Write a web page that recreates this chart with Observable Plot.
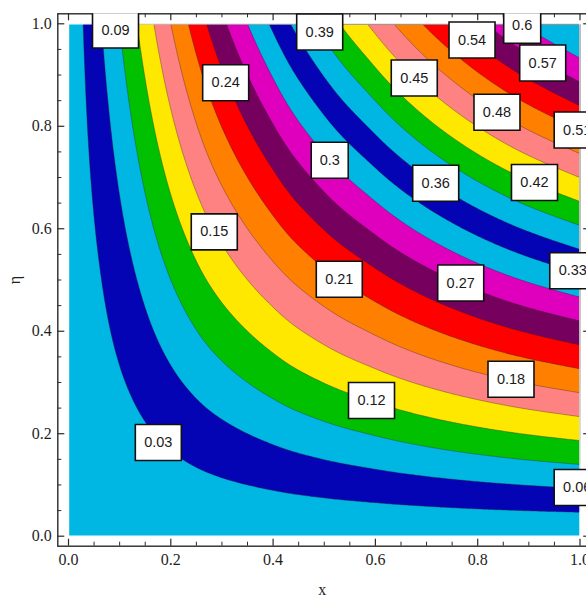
<!DOCTYPE html>
<html>
<head>
<meta charset="utf-8">
<script src="https://cdn.jsdelivr.net/npm/d3@7"></script>
<script src="https://cdn.jsdelivr.net/npm/@observablehq/plot@0.6"></script>
<style>
  html, body { margin: 0; padding: 0; background: #fff; overflow: hidden; }
  #chart svg { max-width: none !important; display: block; }
</style>
</head>
<body>
<div id="chart"></div>
<script>
// Contour levels of the field f(x, η)
const levels = [0.03, 0.06, 0.09, 0.12, 0.15, 0.18, 0.21, 0.24, 0.27, 0.30,
                0.33, 0.36, 0.39, 0.42, 0.45, 0.48, 0.51, 0.54, 0.57, 0.60];
// x at which each level meets the top edge (η = 1)
const topEdgeX = [0.0285, 0.0645, 0.0997, 0.1339, 0.1668, 0.2000, 0.2342, 0.2698, 0.3089, 0.3500,
                  0.3920, 0.4340, 0.481, 0.530, 0.584, 0.636, 0.6915, 0.751, 0.815, 0.885];
// growth of f per unit η along the right edge (x = 1)
const rightEdgeSlope = 0.643;

// Band colours, lowest band (below 0.03) first
const bandColors = [
  "#00b6e2", "#0404b4", "#00b6e2", "#00c000", "#ffe800", "#ff8282", "#ff8000",
  "#ff0000", "#76005e", "#de00bc",
  "#00b6e2", "#0404b4", "#00b6e2", "#00c000", "#ffe800", "#ff8282", "#ff8000",
  "#ff0000", "#76005e", "#de00bc",
  "#00b6e2"
];

// Contour labels: level and the (x, η) where its box sits
const labelLevel = [0.03, 0.06, 0.09, 0.12, 0.15, 0.18, 0.21, 0.24, 0.27, 0.3,
                    0.33, 0.36, 0.39, 0.42, 0.45, 0.48, 0.51, 0.54, 0.57, 0.6];
const labelX   = [0.1756, 0.9945, 0.0919, 0.5924, 0.2850, 0.8651, 0.5294, 0.3073, 0.7668, 0.5107,
                  0.9859, 0.7179, 0.4911, 0.9110, 0.6760, 0.8377, 0.9945, 0.7889, 0.9271, 0.8870];
const labelEta = [0.1829, 0.0950, 0.9880, 0.2648, 0.5940, 0.3064, 0.5016, 0.8850, 0.4941, 0.7338,
                  0.5180, 0.6887, 0.9840, 0.6903, 0.8942, 0.8273, 0.7927, 0.9684, 0.9235, 0.9973];

// Frame ticks
const majorTicks = [0, 0.2, 0.4, 0.6, 0.8, 1.0];
const minorTicks = [0.05, 0.1, 0.15, 0.25, 0.3, 0.35, 0.45, 0.5, 0.55, 0.65, 0.7, 0.75, 0.85, 0.9, 0.95];

// Profile of f along x (η = 1), smooth monotone cubic through the edge crossings
const profX = [0, ...topEdgeX, 1];
const profF = [0, ...levels, rightEdgeSlope];
function monotoneCurve(xs, ys) {
  const n = xs.length, d = [], m = [];
  for (let i = 0; i < n - 1; i++) d[i] = (ys[i + 1] - ys[i]) / (xs[i + 1] - xs[i]);
  m[0] = d[0]; m[n - 1] = d[n - 2];
  for (let i = 1; i < n - 1; i++) m[i] = d[i - 1] * d[i] <= 0 ? 0 : 2 / (1 / d[i - 1] + 1 / d[i]);
  return (x) => {
    const i = Math.min(n - 2, Math.max(0, d3.bisectRight(xs, x) - 1));
    const h = xs[i + 1] - xs[i], t = (x - xs[i]) / h, t2 = t * t, t3 = t2 * t;
    return (2 * t3 - 3 * t2 + 1) * ys[i] + (t3 - 2 * t2 + t) * h * m[i]
         + (-2 * t3 + 3 * t2) * ys[i + 1] + (t3 - t2) * h * m[i + 1];
  };
}
const profile = monotoneCurve(profX, profF);
const field = (x, eta) => eta * profile(x);

const labels = labelLevel.map((v, i) => ({text: String(v), x: labelX[i], eta: labelEta[i]}));
const wideBox = {draw(ctx) { ctx.rect(-23, -18, 46, 36); }};
const narrowBox = {draw(ctx) { ctx.rect(-18.5, -18, 37, 36); }};

const W = 597, H = 596;
const mL = 57.3, mR = 6.8, mT = 13.3, mB = 50.3;
const FW = W - mL - mR, FH = H - mT - mB;
const frameColor = "#2a2a2a";
const serif = "'Liberation Serif', 'DejaVu Serif', serif";
const sans = "'Liberation Sans', Arial, sans-serif";

const chart = Plot.plot({
  width: W, height: H,
  marginLeft: mL, marginRight: mR, marginTop: mT, marginBottom: mB,
  x: {domain: [0, 1], insetLeft: 10.7, insetRight: 10.7},
  y: {domain: [0, 1], insetTop: 10, insetBottom: 10},
  color: {type: "ordinal", domain: [0, ...levels], range: bandColors},
  style: {background: "white", fontFamily: serif},
  marks: [
    // filled bands
    Plot.contour({x1: 0, y1: 0, x2: 1, y2: 1, value: field, thresholds: [0, ...levels], fill: "value", stroke: "none"}),
    // contour lines
    Plot.contour({x1: 0, y1: 0, x2: 1, y2: 1, value: field, thresholds: levels, fill: "none",
                  stroke: "#2b1d1d", strokeOpacity: 0.5, strokeWidth: 0.7}),
    // keep the field edge clean
    Plot.frame({stroke: "white", strokeWidth: 1.4, insetLeft: 10.7, insetRight: 10.7, insetTop: 10, insetBottom: 10}),
    // frame and inward ticks
    Plot.frame({stroke: frameColor, strokeWidth: 1.4}),
    Plot.tickX(majorTicks, {x: d => d, insetTop: FH - 7, stroke: frameColor, strokeWidth: 1.2}),
    Plot.tickX(minorTicks, {x: d => d, insetTop: FH - 4, stroke: frameColor, strokeWidth: 1}),
    Plot.tickX(majorTicks, {x: d => d, insetBottom: FH - 7, stroke: frameColor, strokeWidth: 1.2}),
    Plot.tickX(minorTicks, {x: d => d, insetBottom: FH - 4, stroke: frameColor, strokeWidth: 1}),
    Plot.tickY(majorTicks, {y: d => d, insetRight: FW - 7, stroke: frameColor, strokeWidth: 1.2}),
    Plot.tickY(minorTicks, {y: d => d, insetRight: FW - 4, stroke: frameColor, strokeWidth: 1}),
    Plot.tickY(majorTicks, {y: d => d, insetLeft: FW - 7, stroke: frameColor, strokeWidth: 1.2}),
    Plot.tickY(minorTicks, {y: d => d, insetLeft: FW - 4, stroke: frameColor, strokeWidth: 1}),
    Plot.axisX(majorTicks, {anchor: "bottom", tickSize: 0, tickPadding: 7, tickFormat: d3.format(".1f"),
                            label: null, fontSize: 16, fontFamily: serif, color: "#1e1e1e"}),
    Plot.axisY(majorTicks, {anchor: "left", tickSize: 0, tickPadding: 6, tickFormat: d3.format(".1f"),
                            label: null, fontSize: 16, fontFamily: serif, color: "#1e1e1e"}),
    // contour value labels
    Plot.dot(labels.filter(d => d.text.length > 3), {x: "x", y: "eta", symbol: wideBox, r: 10,
             fill: "white", stroke: "#111", strokeWidth: 1.6, clip: true}),
    Plot.dot(labels.filter(d => d.text.length <= 3), {x: "x", y: "eta", symbol: narrowBox, r: 10,
             fill: "white", stroke: "#111", strokeWidth: 1.6, clip: true}),
    Plot.text(labels, {x: "x", y: "eta", text: "text", fontSize: 14.5, fontFamily: sans,
              fill: "#1a1a1a", clip: true}),
    // frame labels
    Plot.text(["x"], {text: d => d, frameAnchor: "bottom", lineAnchor: "middle", dy: 44, dx: -2,
              fontSize: 16, fontFamily: serif, fill: "#1e1e1e"}),
    Plot.text(["η"], {text: d => d, frameAnchor: "left", textAnchor: "middle", lineAnchor: "middle",
              dx: -43, rotate: -90, fontSize: 16, fontFamily: serif, fill: "#1e1e1e"})
  ]
});
document.getElementById("chart").append(chart);
</script>
</body>
</html>
